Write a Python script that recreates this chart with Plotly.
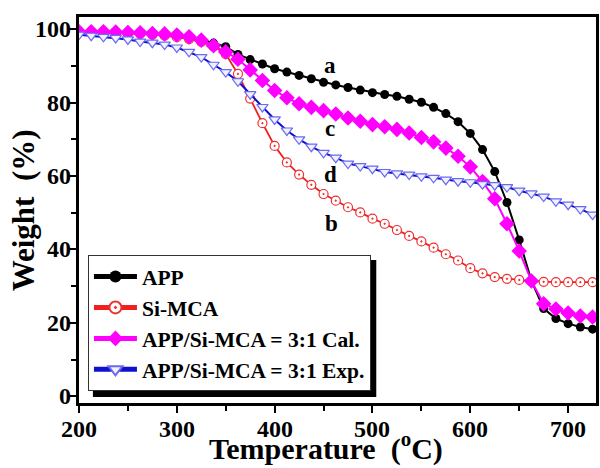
import plotly.graph_objects as go

# Temperature grid (°C) shared by all TGA curves
temperature = [200 + 12.5 * k for k in range(43)]

# Residual weight (%) for each sample
weight_app = [99.3, 99.3, 99.2, 99.1, 99.0, 98.9, 98.7, 98.5, 98.2, 97.7,
              97.1, 96.2, 95.2, 93.1, 91.7, 90.5, 89.2, 88.3, 87.4, 86.5,
              85.5, 84.8, 84.1, 83.4, 82.7, 82.2, 81.7, 80.9, 80.1, 78.7,
              77.0, 74.8, 71.6, 67.2, 61.2, 52.8, 42.6, 31.5, 23.9, 21.2,
              19.8, 18.9, 18.3]
weight_si_mca = [99.3, 99.2, 99.1, 99.0, 98.9, 98.7, 98.5, 98.2, 97.8, 97.3,
                 96.5, 95.3, 93.2, 87.8, 81.1, 74.4, 68.2, 63.7, 60.4, 57.6,
                 55.1, 53.3, 51.5, 50.1, 48.4, 47.0, 45.3, 43.7, 42.2, 40.5,
                 38.7, 37.0, 34.9, 33.5, 32.5, 32.0, 31.7, 31.4, 31.2, 31.1,
                 31.1, 31.1, 31.1]
weight_cal = [99.3, 99.3, 99.3, 99.2, 99.1, 99.0, 98.8, 98.7, 98.4, 97.9,
              97.0, 95.5, 93.8, 91.8, 88.9, 86.0, 83.3, 81.3, 79.7, 78.7,
              77.8, 76.9, 75.8, 74.9, 74.0, 73.4, 72.7, 71.7, 70.5, 69.3,
              67.6, 65.4, 62.5, 58.5, 53.8, 47.0, 39.6, 31.4, 25.2, 23.8,
              22.7, 21.9, 21.6]
weight_exp = [98.5, 98.2, 97.9, 97.6, 97.2, 96.6, 96.3, 95.8, 95.0, 93.8,
              92.4, 90.3, 88.3, 85.8, 82.3, 78.8, 75.4, 72.4, 70.0, 68.0,
              66.3, 65.0, 63.4, 62.7, 62.0, 61.1, 60.7, 60.4, 59.9, 59.5,
              59.0, 58.6, 58.3, 57.8, 57.5, 57.0, 56.0, 55.3, 54.4, 53.1,
              52.2, 51.0, 49.5]

series_names = ["APP", "Si-MCA", "APP/Si-MCA = 3:1 Cal.", "APP/Si-MCA = 3:1 Exp."]

# Curve labels placed beside the curves
curve_labels = ["a", "b", "c", "d"]
label_x = [457, 458, 457, 457]
label_y = [90.2, 47.1, 73.0, 60.3]

x_ticks = [200, 300, 400, 500, 600, 700]
y_ticks = [0, 20, 40, 60, 80, 100]

FONT = "Liberation Serif"
W_PLOT, H_PLOT = 520, 386
ML, MT = 79, 17

fig = go.Figure()

fig.add_trace(go.Scatter(
    x=temperature, y=weight_app, name=series_names[0],
    mode="lines+markers",
    line=dict(color="black", width=2),
    marker=dict(symbol="circle", size=9, color="black"),
))
fig.add_trace(go.Scatter(
    x=temperature, y=weight_si_mca, name=series_names[1],
    mode="lines+markers",
    line=dict(color="#ee2020", width=1.8),
    marker=dict(symbol="circle-dot", size=9, color="white",
                line=dict(color="#ee3030", width=1.2)),
))
fig.add_trace(go.Scatter(
    x=temperature, y=weight_cal, name=series_names[2],
    mode="lines+markers",
    line=dict(color="#ff00ff", width=2),
    marker=dict(symbol="diamond", size=12, color="#ff00ff"),
))
fig.add_trace(go.Scatter(
    x=temperature, y=weight_exp, name=series_names[3],
    mode="lines+markers",
    line=dict(color="#1010d0", width=2),
    marker=dict(symbol="triangle-down", size=10, color="#f0f0ff",
                line=dict(color="#6a6af0", width=1.2)),
))

for txt, lx, ly in zip(curve_labels, label_x, label_y):
    fig.add_annotation(x=lx, y=ly, text=f"<b>{txt}</b>", showarrow=False,
                       font=dict(family=FONT, size=23, color="black"))

# Tick labels set tight against the tick marks
for v in x_ticks:
    fig.add_annotation(x=v, xref="x", y=0, yref="paper", yanchor="top",
                       yshift=-11, text=f"<b>{v}</b>", showarrow=False,
                       font=dict(family=FONT, size=24, color="black"))
for v in y_ticks:
    fig.add_annotation(x=0, xref="paper", y=v, yref="y", xanchor="right",
                       xshift=-6, text=f"<b>{v}</b>", showarrow=False,
                       font=dict(family=FONT, size=24, color="black"))

# Axis titles
fig.add_annotation(x=(327 - ML) / W_PLOT, xref="paper", xanchor="center",
                   y=(403 - 446) / H_PLOT, yref="paper", yanchor="middle",
                   text="<b>Temperature  (<sup>o</sup>C)</b>", showarrow=False,
                   font=dict(family=FONT, size=30, color="black"))
fig.add_annotation(x=(23 - ML) / W_PLOT, xref="paper", xanchor="center",
                   y=(403 - 210) / H_PLOT, yref="paper", yanchor="middle",
                   textangle=-90,
                   text="<b>Weight  (%)</b>", showarrow=False,
                   font=dict(family=FONT, size=31, color="black"))

# Drop shadow behind the legend box
fig.add_shape(type="rect", xref="paper", yref="paper", layer="below",
              x0=(93 - ML) / W_PLOT, x1=(378 - ML) / W_PLOT,
              y0=(403 - 397) / H_PLOT, y1=(403 - 260) / H_PLOT,
              fillcolor="black", line=dict(width=0))

fig.update_layout(
    width=600, height=468,
    margin=dict(l=ML, r=1, t=MT, b=65),
    paper_bgcolor="white", plot_bgcolor="white",
    font=dict(family=FONT, color="black"),
    showlegend=True,
    legend=dict(
        x=(88 - ML) / W_PLOT, y=(403 - 255) / H_PLOT,
        xanchor="left", yanchor="top",
        bgcolor="white", bordercolor="#333333", borderwidth=1,
        font=dict(family=FONT, size=21.5, color="black", weight="bold"),
        itemwidth=43,
        itemsizing="constant",
    ),
)

fig.update_xaxes(
    range=[200, 728.5], tickvals=x_ticks, showticklabels=False,
    ticks="outside", ticklen=7, tickwidth=2, tickcolor="black",
    minor=dict(dtick=50, ticks="outside", ticklen=5, tickwidth=2, tickcolor="black"),
    showline=True, linecolor="black", linewidth=2.5, mirror=True,
    showgrid=False, zeroline=False,
)
fig.update_yaxes(
    range=[-1.8, 103.3], tickvals=y_ticks, showticklabels=False,
    ticks="outside", ticklen=7, tickwidth=2, tickcolor="black",
    minor=dict(dtick=10, ticks="outside", ticklen=5, tickwidth=2, tickcolor="black"),
    showline=True, linecolor="black", linewidth=2.5, mirror=True,
    showgrid=False, zeroline=False,
)

fig.write_html("out.html")
